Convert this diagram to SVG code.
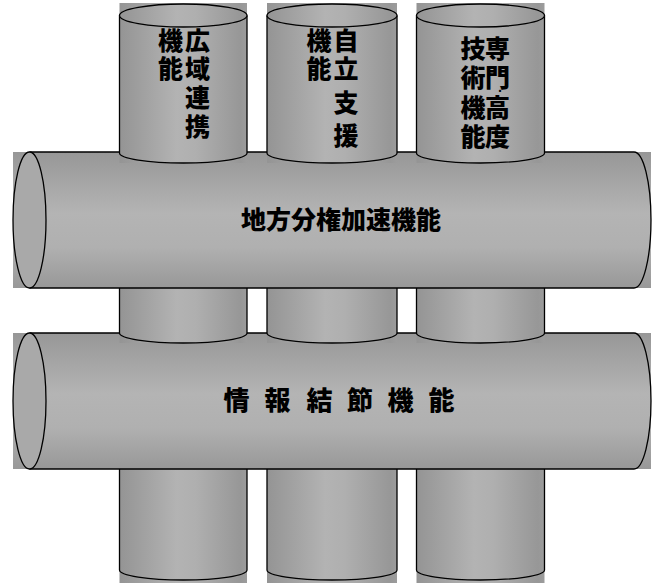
<svg xmlns="http://www.w3.org/2000/svg" width="658" height="583" viewBox="0 0 658 583">
<style>
.ol{fill:none;stroke:#000;stroke-width:1.3}
.t{font-family:"Noto Sans CJK JP","Noto Sans CJK SC",sans-serif;font-weight:900;fill:#000;text-anchor:middle}
.v{font-family:"Noto Sans CJK JP","Noto Sans CJK SC",sans-serif;font-weight:900;fill:#000;font-size:25px;writing-mode:vertical-rl;text-anchor:start}
</style>
<defs>
<linearGradient id="gv" x1="0" y1="0" x2="1" y2="0">
<stop offset="0" stop-color="#949494"/>
<stop offset="0.45" stop-color="#b3b3b3"/>
<stop offset="0.6" stop-color="#afafaf"/>
<stop offset="0.95" stop-color="#979797"/>
<stop offset="1" stop-color="#9c9c9c"/>
</linearGradient>
<linearGradient id="gh" x1="0" y1="0" x2="0" y2="1">
<stop offset="0" stop-color="#979797"/>
<stop offset="0.45" stop-color="#b4b4b4"/>
<stop offset="0.7" stop-color="#b0b0b0"/>
<stop offset="1" stop-color="#989898"/>
</linearGradient>
</defs>

<g id="connectors"></g>

<!-- bottom vertical cylinders -->
<g id="bottom-col-1">
<rect x="119.5" y="469" width="127.5" height="114" fill="url(#gv)"/>
<path class="ol" d="M119.5,469 V570 A63.75,10 0 0 0 247,570 V469"/>
</g>
<g id="bottom-col-2">
<rect x="267" y="469" width="130" height="114" fill="url(#gv)"/>
<path class="ol" d="M267,469 V570 A65,10 0 0 0 397,570 V469"/>
</g>
<g id="bottom-col-3">
<rect x="416.5" y="469" width="128" height="114" fill="url(#gv)"/>
<path class="ol" d="M416.5,469 V570 A64,10 0 0 0 544.5,570 V469"/>
</g>

<!-- lower horizontal cylinder -->
<g id="jouhou-kessetsu">
<rect x="13" y="333" width="638" height="136" fill="url(#gh)"/>
<path class="ol" d="M29.5,333 H634 A17,68 0 0 1 634,469 H29.5"/>
<ellipse cx="29.5" cy="401" rx="16.5" ry="68" fill="#a9a9a9" stroke="#000" stroke-width="1.3"/>
<text class="t" font-size="26" y="409.5" x="223.5 249.5 264.5 290.5 306.5 332.5 347 373 387.5 413.5 428.5" style="text-anchor:start">情 報 結 節 機 能</text>
</g>

<!-- middle vertical cylinders -->
<g id="mid-col-1">
<rect x="119.5" y="288" width="127.5" height="55" fill="url(#gv)"/>
<path class="ol" d="M119.5,288 V333 A63.75,10 0 0 0 247,333 V288"/>
</g>
<g id="mid-col-2">
<rect x="267" y="288" width="130" height="55" fill="url(#gv)"/>
<path class="ol" d="M267,288 V333 A65,10 0 0 0 397,333 V288"/>
</g>
<g id="mid-col-3">
<rect x="416.5" y="288" width="128" height="55" fill="url(#gv)"/>
<path class="ol" d="M416.5,288 V333 A64,10 0 0 0 544.5,333 V288"/>
</g>

<!-- upper horizontal cylinder -->
<g id="chihou-bunken">
<rect x="13" y="152" width="638" height="136" fill="url(#gh)"/>
<path class="ol" d="M29.5,152 H634 A17,68 0 0 1 634,288 H29.5"/>
<ellipse cx="29.5" cy="220" rx="16.5" ry="68" fill="#a9a9a9" stroke="#000" stroke-width="1.3"/>
<text class="t" font-size="25" x="341" y="228.5">地方分権加速機能</text>
</g>

<!-- top vertical cylinders -->
<g id="kouiki-renkei">
<rect x="119.5" y="3" width="127.5" height="160" fill="url(#gv)"/>
<path class="ol" d="M119.5,15.5 V153 A63.75,10 0 0 0 247,153 V15.5"/>
<ellipse cx="183.25" cy="15.5" rx="63.75" ry="11.5" fill="url(#gv)" stroke="#000" stroke-width="1.3"/>
<text class="v" x="197.5" y="27.5" letter-spacing="3.7">広域連携</text>
<text class="v" x="170.5" y="27.5" letter-spacing="3.7">機能</text>
</g>
<g id="jiritsu-shien">
<rect x="267" y="3" width="130" height="160" fill="url(#gv)"/>
<path class="ol" d="M267,15.5 V153 A65,10 0 0 0 397,153 V15.5"/>
<ellipse cx="332" cy="15.5" rx="65" ry="11.5" fill="url(#gv)" stroke="#000" stroke-width="1.3"/>
<text class="v" x="346" y="27.5" letter-spacing="3"><tspan>自立</tspan><tspan y="89.5" letter-spacing="8">支援</tspan></text>
<text class="v" x="319" y="27.5" letter-spacing="3">機能</text>
</g>
<g id="senmon-koudo">
<rect x="416.5" y="3" width="128" height="160" fill="url(#gv)"/>
<path class="ol" d="M416.5,15.5 V153 A64,10 0 0 0 544.5,153 V15.5"/>
<ellipse cx="480.5" cy="15.5" rx="64" ry="11.5" fill="url(#gv)" stroke="#000" stroke-width="1.3"/>
<text class="v" x="497.5" y="35.5" letter-spacing="4.5">専門<tspan x="500" y="87" font-size="8" letter-spacing="0">・</tspan><tspan x="497.5" y="94.5">高度</tspan></text>
<text class="v" x="473" y="35.5" letter-spacing="4.5">技術機能</text>
</g>
</svg>
